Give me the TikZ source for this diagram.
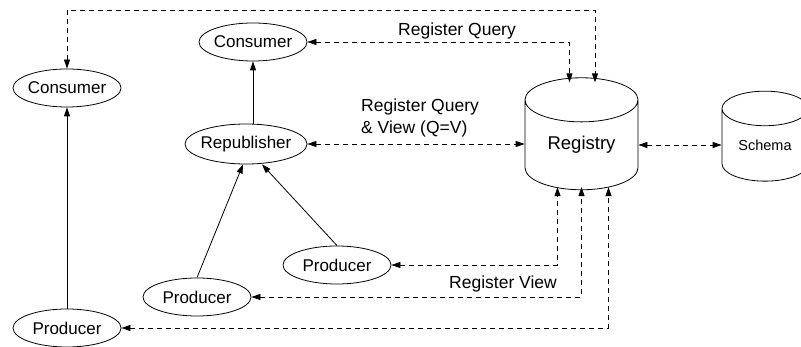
\documentclass[tikz,border=0pt]{standalone}
\usepackage{fontspec}
\setmainfont{Liberation Sans}
\usetikzlibrary{shapes.geometric,arrows.meta}

\begin{document}
\begin{tikzpicture}[x=1pt, y=-1pt,
    agent/.style={draw, ellipse, inner xsep=-3pt, inner ysep=0pt, minimum width=108pt, minimum height=38pt, line width=0.8pt, node font=\fontsize{17}{20}\selectfont},
    store/.style={draw, cylinder, shape border rotate=90, aspect=0.65, inner sep=0pt, line width=0.8pt},
    feed/.style={-{Triangle[length=9pt,width=6pt]}, line width=0.8pt},
    regline/.style={{Triangle[length=9pt,width=6pt]}-{Triangle[length=9pt,width=6pt]}, dash pattern=on 5pt off 4pt, line width=0.8pt},
    tag/.style={inner sep=0pt, node font=\fontsize{17.5}{22}\selectfont}]

    \useasboundingbox (0,0) rectangle (801,347);

    % agents
    \node[agent] (consL) at (67,88) {Consumer};
    \node[agent] (consT) at (253,42) {Consumer};
    \node[agent, minimum width=122pt, minimum height=40pt] (repub) at (246,144) {Republisher};
    \node[agent] (prodR) at (337,265) {Producer};
    \node[agent] (prodM) at (197,297) {Producer};
    \node[agent] (prodL) at (67,328) {Producer};

    % stores
    \node[store, minimum width=113pt, minimum height=112pt, node font=\fontsize{18.5}{22}\selectfont] (registry) at (581.5,145) {Registry};
    \node[store, minimum width=86pt, minimum height=90pt, node font=\fontsize{14.5}{18}\selectfont] (schema) at (765,145) {Schema};

    % data flow
    \draw[feed] (prodL) -- (consL);
    \draw[feed] (repub.north -| consT.south) -- (consT.south);
    \draw[feed] (prodM.north) -- ([xshift=-3pt]repub.south);
    \draw[feed] (prodR.north) -- ([xshift=16pt]repub.south);

    % registration
    \coordinate (qtop) at (595,10);
    \draw[regline] (consL.north) |- (qtop) -- ([yshift=-5pt]qtop |- registry.north);
    \draw[regline] (consT.east) -| ([xshift=-12pt, yshift=-5pt]registry.north);
    \draw[regline] (repub.east) -- (repub.east -| registry.west);
    \draw[regline] (registry.east |- schema.west) -- (schema.west);
    \draw[regline] (prodR.east) -| ([xshift=-24pt, yshift=3pt]registry.south);
    \draw[regline] (prodM.east) -| ([yshift=3pt]registry.south);
    \draw[regline] (prodL.east) -| ([xshift=27pt, yshift=3pt]registry.south);

    % labels
    \node[tag] (lq) at (457,31) {Register Query};
    \node[tag, anchor=west, align=left] (lqv) at (361,118) {Register Query\\\& View (Q=V)};
    \node[tag] (lv) at (503,284) {Register View};

\end{tikzpicture}
\end{document}
